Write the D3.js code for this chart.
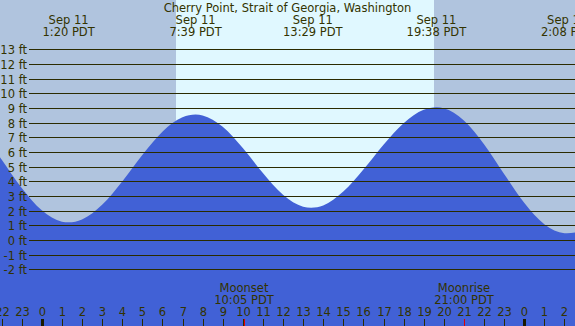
<!DOCTYPE html>
<html>
<head>
<meta charset="utf-8">
<script src="https://cdn.jsdelivr.net/npm/d3@7"></script>
<style>
	body { margin: 0; background: #fff; }
	svg { display: block; }
	text { font-family: "DejaVu Sans", sans-serif; font-size: 11.5px; fill: #333300; }
</style>
</head>
<body>
<svg class="chart"></svg>
<script>

// hours are counted from midnight Sep 11 (PDT)
var tideHours = [-2.2, -2, -1, 0, 1, 1.33, 2, 3, 4, 5, 6, 7, 7.65, 8, 9, 10, 11, 12, 13, 13.4,
	14, 15, 16, 17, 18, 19, 19.63, 20, 21, 22, 23, 24, 25, 26, 26.13, 26.6];
var tideFeet = [5.88, 5.48, 3.55, 2.02, 1.25, 1.2, 1.4, 2.4, 3.99, 5.79, 7.38, 8.36, 8.55, 8.49, 7.72, 6.27, 4.56, 3.08, 2.27, 2.2,
	2.35, 3.3, 4.8, 6.5, 7.96, 8.88, 9.05, 8.98, 8.14, 6.53, 4.5, 2.54, 1.08, 0.46, 0.45, 0.52];

var extremeHours = [1.333, 7.65, 13.483, 19.633, 26.133];
var extremeDates = ["Sep 11", "Sep 11", "Sep 11", "Sep 11", "Sep 12"];
var extremeTimes = ["1:20 PDT", "7:39 PDT", "13:29 PDT", "19:38 PDT", "2:08 PDT"];

var moonHours = [10.083, 21];
var moonNames = ["Moonset", "Moonrise"];
var moonTimes = ["10:05 PDT", "21:00 PDT"];

var sunrise = 6.68, sunset = 19.5;

var feetTicks = d3.range(-2, 14);
var hourTicks = d3.range(-2, 28);

var title = "Cherry Point, Strait of Georgia, Washington";

var svgWidth = 575,
	svgHeight = 326;

var chart = d3.select( ".chart" )
	.attr( "width", svgWidth )
	.attr( "height", svgHeight );

var x = d3.scaleLinear().domain( [0, 24] ).range( [41.8, 524.2] );
var y = d3.scaleLinear().domain( [-2, 13] ).range( [269.3, 49.3] );

// night / day backgrounds
chart.append( "rect" )
	.attr( "width", svgWidth )
	.attr( "height", svgHeight )
	.attr( "fill", "#b0c4de" );

chart.append( "rect" )
	.attr( "x", Math.round( x( sunrise ) ) )
	.attr( "width", Math.round( x( sunset ) ) - Math.round( x( sunrise ) ) )
	.attr( "height", svgHeight )
	.attr( "fill", "#e0f8ff" );

// water
var tide = tideHours.map( function(h, i) { return { h: h, ft: tideFeet[i] }; } );

var area = d3.area()
	.x( function(d) { return x( d.h ); } )
	.y0( svgHeight )
	.y1( function(d) { return y( d.ft ); } )
	.curve( d3.curveMonotoneX );

chart.append( "path" )
	.datum( tide )
	.attr( "d", area )
	.attr( "fill", "#4161d6" );

// feet grid
var grid = chart.selectAll( ".ft" )
	.data( feetTicks )
	.enter().append( "g" )
	.classed( "ft", true )
	.attr( "transform", function(d) { return "translate(0," + Math.round( y(d) ) + ")"; } );

grid.append( "line" )
	.attr( "x1", 29 )
	.attr( "x2", svgWidth )
	.attr( "y1", 0.5 )
	.attr( "y2", 0.5 )
	.attr( "stroke", "#2b2b00" )
	.attr( "stroke-width", 1 );

grid.append( "text" )
	.attr( "x", 27 )
	.attr( "y", 4.5 )
	.attr( "text-anchor", "end" )
	.text( function(d) { return d + " ft"; } );

// title and high / low labels
chart.append( "text" )
	.attr( "x", svgWidth / 2 )
	.attr( "y", 11.5 )
	.attr( "text-anchor", "middle" )
	.text( title );

var ext = chart.selectAll( ".extreme" )
	.data( extremeHours )
	.enter().append( "g" )
	.classed( "extreme", true )
	.attr( "transform", function(d) { return "translate(" + x(d) + ",0)"; } );

ext.append( "text" )
	.attr( "y", 23.5 )
	.attr( "text-anchor", "middle" )
	.text( function(d, i) { return extremeDates[i]; } );

ext.append( "text" )
	.attr( "y", 35.5 )
	.attr( "text-anchor", "middle" )
	.text( function(d, i) { return extremeTimes[i]; } );

// hour axis
var hours = chart.selectAll( ".hour" )
	.data( hourTicks )
	.enter().append( "g" )
	.classed( "hour", true )
	.attr( "transform", function(d) { return "translate(" + Math.round( x(d) ) + ",0)"; } );

hours.append( "rect" )
	.attr( "x", function(d) { return d % 24 === 0 ? -1 : 0; } )
	.attr( "y", 319 )
	.attr( "width", function(d) { return d % 24 === 0 ? 3 : 1; } )
	.attr( "height", 7 )
	.attr( "fill", function(d) { return d % 24 === 0 ? "#1a1a00" : "#2b2b00"; } );

hours.append( "text" )
	.attr( "x", 0.5 )
	.attr( "y", 316 )
	.attr( "text-anchor", "middle" )
	.text( function(d) { return ( (d % 24) + 24 ) % 24; } );

// moon events
var moon = chart.selectAll( ".moon" )
	.data( moonHours )
	.enter().append( "g" )
	.classed( "moon", true )
	.attr( "transform", function(d) { return "translate(" + Math.round( x(d) ) + ",0)"; } );

moon.append( "rect" )
	.attr( "y", 319 )
	.attr( "width", 1 )
	.attr( "height", 7 )
	.attr( "fill", "#e00000" );

moon.append( "text" )
	.attr( "y", 292 )
	.attr( "text-anchor", "middle" )
	.text( function(d, i) { return moonNames[i]; } );

moon.append( "text" )
	.attr( "y", 303.5 )
	.attr( "text-anchor", "middle" )
	.text( function(d, i) { return moonTimes[i]; } );

</script>
</body>
</html>
